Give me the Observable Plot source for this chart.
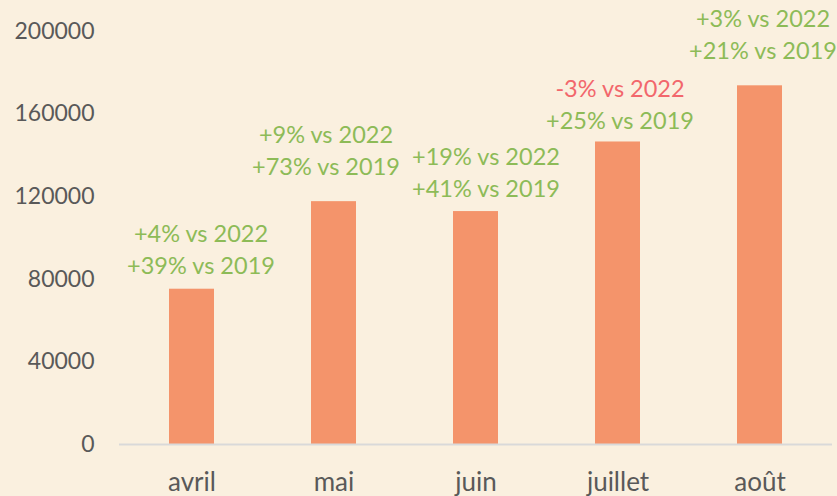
<!DOCTYPE html>
<html>
<head>
<meta charset="utf-8">
<script src="https://cdn.jsdelivr.net/npm/d3@7"></script>
<script src="https://cdn.jsdelivr.net/npm/@observablehq/plot@0.6"></script>
<style>
  html, body { margin: 0; padding: 0; background: #FAF0DF; overflow: hidden; }
  #chart svg { display: block; }
</style>
</head>
<body>
<div id="chart"></div>
<script>
const months = ["avril", "mai", "juin", "juillet", "août"];
const visitors = [75200, 117600, 112800, 146500, 173700];
const vs2022 = [4, 9, 19, -3, 3];
const vs2019 = [39, 73, 41, 25, 21];
const yTicks = [0, 40000, 80000, 120000, 160000, 200000];

const data = months.map((m, i) => ({month: m, value: visitors[i], p22: vs2022[i], p19: vs2019[i]}));
// label placement nudges (pixels), as placed manually in the original
const lift = {"avril": 23, "mai": 34, "juin": 22, "juillet": 21, "août": 34};
const shift = {"avril": 9, "mai": -8, "juin": 10, "juillet": 2, "août": 3};
const fmt = p => (p >= 0 ? "+" : "") + p + "%";
const green = "#8DBB57", red = "#F2676C";

const chart = Plot.plot({
  width: 837,
  height: 496,
  marginLeft: 119,
  marginRight: 5,
  marginTop: 31,
  marginBottom: 52,
  style: {background: "#FAF0DF", fontFamily: "Lato, 'Open Sans', sans-serif", fontSize: "23px", color: "#595959", overflow: "hidden"},
  x: {domain: months, paddingInner: 0.684, paddingOuter: 0.342, align: 0.5},
  y: {domain: [0, 200000]},
  marks: [
    Plot.axisY({ticks: yTicks, tickFormat: d => String(d), tickSize: 0, tickPadding: 25, label: null, fill: "#595959", fontSize: 23}),
    Plot.axisX({tickSize: 0, tickPadding: 28, label: null, fill: "#595959", fontSize: 26}),
    Plot.barY(data, {x: "month", y: "value", fill: "#F4946B"}),
    Plot.ruleY([0], {stroke: "#D9D9D9", strokeWidth: 2}),
    ...data.map(d => Plot.text([d], {x: "month", y: "value", text: e => fmt(e.p19) + " vs 2019", fill: green, fontSize: 23.5, lineAnchor: "middle", dx: shift[d.month], dy: -lift[d.month]})),
    ...data.map(d => Plot.text([d], {x: "month", y: "value", text: e => fmt(e.p22) + " vs 2022", fill: e => e.p22 < 0 ? red : green, fontSize: 23.5, lineAnchor: "middle", dx: shift[d.month], dy: -lift[d.month] - 32}))
  ]
});
document.getElementById("chart").appendChild(chart);
</script>
</body>
</html>
